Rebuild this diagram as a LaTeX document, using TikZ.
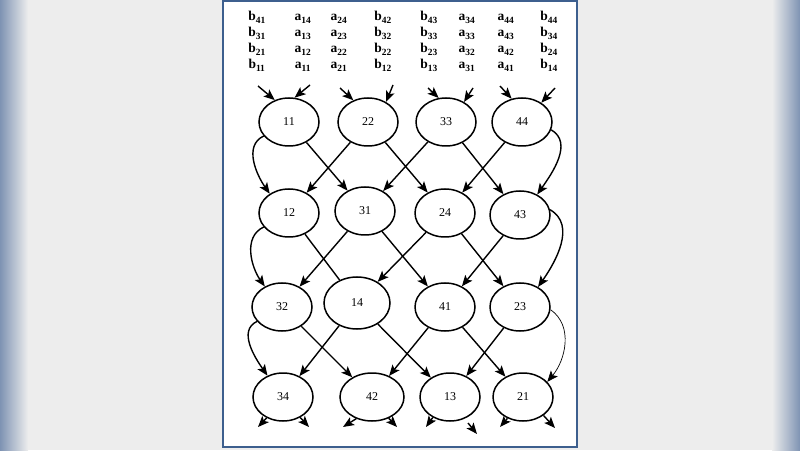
\documentclass[tikz,border=0pt]{standalone}
\usepackage{fontspec}
\setmainfont{Liberation Serif}
\usetikzlibrary{shapes.geometric,arrows.meta}
\definecolor{panel}{HTML}{3D5F8E}
\definecolor{edgeblue}{HTML}{7E93B3}
\definecolor{backdrop}{HTML}{EDEDED}

\begin{document}
\begin{tikzpicture}
  [x=1pt,y=1pt,
   cell/.style={ellipse,draw,line width=1.5pt,minimum width=60pt,minimum height=48pt,inner sep=0pt,font=\fontsize{12}{14}\selectfont},
   lab/.style={anchor=base,inner sep=0pt,font=\fontsize{13.5}{15}\selectfont\bfseries},
   flow/.style={line width=1.4pt,-{Stealth[length=11pt,width=9pt,inset=2.5pt]}}]
  \useasboundingbox (0,0) rectangle (800,450);

  % backdrop and panel
  \fill[backdrop] (0,0) rectangle (800,450);
  \shade[left color=edgeblue,right color=backdrop] (0,0) rectangle (28,450);
  \shade[left color=backdrop,right color=edgeblue] (772,0) rectangle (800,450);
  \draw[line width=2.5pt,draw=panel,fill=white] (223,3) rectangle (577,449);

  % input streams
  \foreach \x/\l/\p/\q/\r/\s in {257/b/41/31/21/11, 303/a/14/13/12/11, 339/a/24/23/22/21, 383/b/42/32/22/12,
                                 429/b/43/33/23/13, 467/a/34/33/32/31, 506/a/44/43/42/41, 549/b/44/34/24/14}
  {
    \node[lab] (t\x) at (\x,429) {\l\textsubscript{\p}};
    \node[lab] (u\x) at (\x,413) {\l\textsubscript{\q}};
    \node[lab] (v\x) at (\x,397) {\l\textsubscript{\r}};
    \node[lab] (w\x) at (\x,381) {\l\textsubscript{\s}};
  }

  \node[cell] (n11) at (289,328) {11};
  \node[cell] (n22) at (368,328) {22};
  \node[cell] (n33) at (446,328) {33};
  \node[cell] (n44) at (522,328) {44};

  \node[cell] (n12) at (289,237) {12};
  \node[cell] (n31) at (365,239) {31};
  \node[cell] (n24) at (445,237) {24};
  \node[cell] (n43) at (520,235) {43};

  \node[cell] (n32) at (282,143) {32};
  \node[cell,minimum width=66pt,minimum height=52pt] (n14) at (357,147) {14};
  \node[cell] (n41) at (445,143) {41};
  \node[cell] (n23) at (520,143) {23};

  \node[cell] (n34) at (283,53) {34};
  \node[cell,minimum width=64pt] (n42) at (372,53) {42};
  \node[cell] (n13) at (450,53) {13};
  \node[cell] (n21) at (523,53) {21};

  \coordinate (i11a) at (258,364);
  \coordinate (i11b) at (310,365);
  \coordinate (i22a) at (340,362);
  \coordinate (i22b) at (393,365);
  \coordinate (i33a) at (428,362);
  \coordinate (i33b) at (473,362);
  \coordinate (i44a) at (500,364);
  \coordinate (i44b) at (555,362);

  \coordinate (o34a) at (258,23);
  \coordinate (o34b) at (309,23);
  \coordinate (o42a) at (343,23);
  \coordinate (o42b) at (397,23);
  \coordinate (o13a) at (426,23);
  \coordinate (s13) at (468,27);
  \coordinate (o13b) at (477,16);
  \coordinate (o21a) at (500,23);
  \coordinate (o21b) at (555,22);

  \draw[flow] (i11a) -- (n11.123);
  \draw[flow] (i11b) -- (n11.77);
  \draw[flow] (i22a) -- (n22.124);
  \draw[flow] (i22b) -- (n22.48);
  \draw[flow] (i33a) -- (n33.107);
  \draw[flow] (i33b) -- (n33.48);
  \draw[flow] (i44a) -- (n44.114);
  \draw[flow] (i44b) -- (n44.45);

  \foreach \from/\to in {n11/n31,n22/n12,n22/n24,n33/n31,n33/n43,n44/n24,
                         n31/n32,n31/n41,n24/n14,n24/n23,n43/n41,
                         n32/n42,n14/n34,n14/n13,n41/n42,n41/n21,n23/n13}
    \draw[flow] (\from) -- (\to);
  \draw[line width=1.4pt] (n12) -- (n14);

  % wrap-around links
  \draw[flow] (n11.209) to[out=205,in=125] (n12.135);
  \draw[flow] (n12.209) to[out=205,in=125] (n32.130);
  \draw[flow] (n32.210) to[out=205,in=125] (n34.126);
  \draw[flow] (n44.345) to[out=-30,in=55] (n43.50);
  \draw[flow] (n43.10) to[out=-30,in=55] (n23.48);
  \draw[flow,line width=0.7pt] (n23.355) to[out=-35,in=50] (n21.32);

  \draw[flow] (n34.232) -- (o34a);
  \draw[flow] (n34.310) -- (o34b);
  \draw[flow] (n42.234) -- (o42a);
  \draw[flow] (n42.308) -- (o42b);
  \draw[flow] (n13.230) -- (o13a);
  \draw[flow] (s13) -- (o13b);
  \draw[flow] (n21.234) -- (o21a);
  \draw[flow] (n21.318) -- (o21b);

\end{tikzpicture}
\end{document}
